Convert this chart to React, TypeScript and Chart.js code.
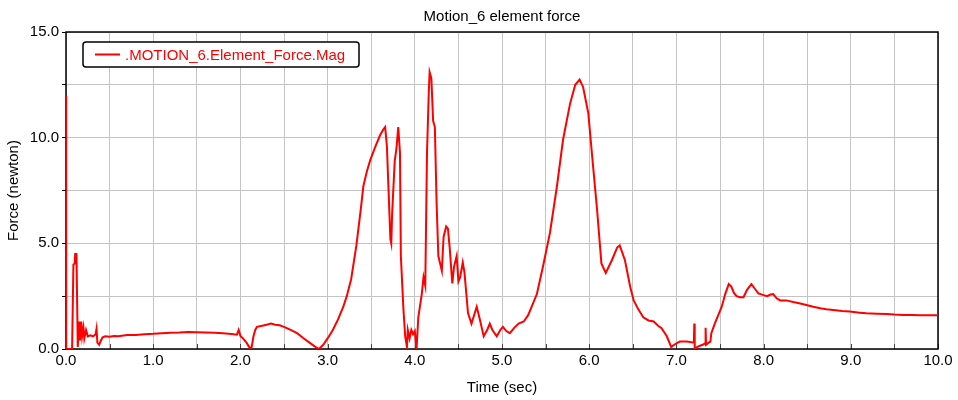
import React, { useEffect, useRef } from "react";
import { Chart, registerables } from "chart.js";

Chart.register(...registerables);

const CHART_TITLE = "Motion_6 element force";
const X_TITLE = "Time (sec)";
const Y_TITLE = "Force (newton)";
const SERIES_NAME = ".MOTION_6.Element_Force.Mag";

const timeSec = [
  0.0, 0.002, 0.07, 0.085, 0.1, 0.105, 0.12, 0.135, 0.15, 0.16, 0.175, 0.185, 0.2, 0.21, 0.23,
  0.25, 0.28, 0.31, 0.34, 0.35, 0.36, 0.38, 0.4, 0.42, 0.45, 0.5, 0.55, 0.6, 0.7, 0.8,
  0.9, 1.0, 1.1, 1.2, 1.3, 1.4, 1.5, 1.6, 1.7, 1.8, 1.9, 1.96, 1.98, 2.0, 2.03,
  2.07, 2.11, 2.13, 2.15, 2.17, 2.19, 2.25, 2.3, 2.35, 2.4, 2.45, 2.5, 2.57, 2.65, 2.72,
  2.8, 2.86, 2.9, 2.95, 3.0, 3.06, 3.12, 3.18, 3.22, 3.27, 3.33, 3.38, 3.41, 3.45, 3.49,
  3.55, 3.6, 3.64, 3.66, 3.68, 3.7, 3.72, 3.73, 3.74, 3.77, 3.79, 3.81, 3.83, 3.84, 3.87,
  3.89, 3.91, 3.92, 3.94, 3.96, 3.98, 4.0, 4.02, 4.04, 4.08, 4.1, 4.12, 4.14, 4.16, 4.17,
  4.19, 4.21, 4.23, 4.25, 4.27, 4.31, 4.33, 4.36, 4.38, 4.4, 4.43, 4.45, 4.48, 4.5, 4.52,
  4.55, 4.57, 4.61, 4.65, 4.68, 4.71, 4.74, 4.79, 4.83, 4.86, 4.89, 4.94, 4.98, 5.01, 5.05,
  5.09, 5.14, 5.19, 5.25, 5.3, 5.35, 5.4, 5.47, 5.55, 5.63, 5.7, 5.78, 5.84, 5.89, 5.93,
  5.99, 6.03, 6.09, 6.14, 6.19, 6.26, 6.32, 6.35, 6.41, 6.47, 6.51, 6.56, 6.62, 6.68, 6.74,
  6.79, 6.83, 6.89, 6.94, 7.0, 7.04, 7.12, 7.2, 7.205, 7.21, 7.24, 7.3, 7.33, 7.335, 7.34,
  7.37, 7.39, 7.4, 7.44, 7.48, 7.52, 7.56, 7.6, 7.63, 7.66, 7.69, 7.73, 7.77, 7.81, 7.86,
  7.9, 7.94, 8.0, 8.04, 8.08, 8.11, 8.15, 8.19, 8.26, 8.34, 8.42, 8.49, 8.57, 8.65, 8.72,
  8.8, 8.9, 8.99, 9.1, 9.18, 9.3, 9.41, 9.5, 9.6, 9.7, 9.8, 9.9, 10.0,
];

const forceN = [
  12.0, 0.0, 0.0, 4.0, 4.05, 4.5, 4.5, 0.1, 1.3, 0.4, 1.3, 0.6, 1.0, 0.5, 0.9,
  0.6, 0.65, 0.6, 0.7, 0.95, 0.3, 0.2, 0.4, 0.55, 0.6, 0.58, 0.62, 0.6, 0.66, 0.66,
  0.7, 0.72, 0.75, 0.77, 0.78, 0.8, 0.79, 0.78, 0.77, 0.74, 0.71, 0.68, 0.9, 0.62, 0.5,
  0.3, 0.03, 0.1, 0.6, 0.9, 1.05, 1.1, 1.15, 1.2, 1.15, 1.12, 1.05, 0.92, 0.75, 0.52,
  0.28, 0.1, 0.0, 0.2, 0.5, 0.9, 1.4, 2.0, 2.5, 3.3, 4.9, 6.6, 7.7, 8.4, 8.95,
  9.6, 10.1, 10.4, 10.5, 9.6, 7.4, 5.2, 5.0, 6.4, 8.9, 9.5, 10.5, 9.3, 4.4, 1.85,
  0.6, 0.1, 0.9, 0.5, 0.9, 0.7, 0.85, 0.0, 1.5, 2.6, 3.4, 3.0, 9.3, 12.1, 13.1,
  12.8, 10.8, 10.5, 6.9, 4.4, 3.7, 5.3, 5.8, 5.7, 4.8, 3.1, 3.9, 4.4, 3.2, 3.4,
  4.1, 3.6, 1.7, 1.2, 1.6, 2.0, 1.5, 0.6, 0.9, 1.2, 0.9, 0.6, 0.9, 1.05, 0.85,
  0.75, 1.0, 1.2, 1.3, 1.6, 2.1, 2.6, 3.9, 5.5, 7.7, 9.9, 11.6, 12.5, 12.75, 12.4,
  11.15, 9.3, 6.6, 4.05, 3.6, 4.2, 4.8, 4.9, 4.2, 2.95, 2.3, 1.9, 1.5, 1.35, 1.3,
  1.1, 0.98, 0.6, 0.1, 0.27, 0.35, 0.35, 0.3, 1.2, 0.0, 0.1, 0.2, 0.27, 1.0, 0.2,
  0.3, 0.35, 0.74, 1.2, 1.6, 2.0, 2.6, 3.07, 2.95, 2.65, 2.5, 2.45, 2.45, 2.8, 3.07,
  2.85, 2.63, 2.55, 2.5, 2.58, 2.6, 2.4, 2.3, 2.3, 2.22, 2.15, 2.08, 2.0, 1.93, 1.88,
  1.85, 1.8, 1.77, 1.72, 1.69, 1.67, 1.66, 1.63, 1.61, 1.61, 1.6, 1.6, 1.6,
];

const xTickValues = [0, 0.5, 1, 1.5, 2, 2.5, 3, 3.5, 4, 4.5, 5, 5.5, 6, 6.5, 7, 7.5, 8, 8.5, 9, 9.5, 10];
const xTickLabels = ["0.0", "", "1.0", "", "2.0", "", "3.0", "", "4.0", "", "5.0", "", "6.0", "", "7.0", "", "8.0", "", "9.0", "", "10.0"];
const yTickValues = [0, 2.5, 5, 7.5, 10, 12.5, 15];
const yTickLabels = ["0.0", "", "5.0", "", "10.0", "", "15.0"];

const FONT = '"Liberation Sans", Arial, sans-serif';
const RED = "#ff0000";
const GRID = "#c4c4c4";

const decorPlugin = {
  id: "decor",
  beforeDatasetsDraw(chart: any) {
    const { ctx, chartArea: a, scales } = chart;
    ctx.save();
    // inward x tick marks
    ctx.strokeStyle = "#444";
    ctx.lineWidth = 1;
    for (const v of xTickValues) {
      const x = Math.round(scales.x.getPixelForValue(v)) + 0.5;
      ctx.beginPath();
      ctx.moveTo(x, a.bottom);
      ctx.lineTo(x, a.bottom - 5);
      ctx.stroke();
    }
    // frame
    ctx.strokeStyle = "#000";
    ctx.lineWidth = 1.5;
    ctx.strokeRect(a.left, a.top, a.right - a.left, a.bottom - a.top);
    ctx.restore();
  },
  afterDraw(chart: any) {
    const { ctx, chartArea: a } = chart;
    ctx.save();
    // title
    ctx.fillStyle = "#000";
    ctx.font = `15px ${FONT}`;
    ctx.textAlign = "center";
    ctx.textBaseline = "middle";
    ctx.fillText(CHART_TITLE, (a.left + a.right) / 2, 17);
    // legend box
    const bx = a.left + 17;
    const by = a.top + 10;
    const bw = 276;
    const bh = 25;
    ctx.beginPath();
    if ((ctx as any).roundRect) {
      (ctx as any).roundRect(bx, by, bw, bh, 3);
    } else {
      ctx.rect(bx, by, bw, bh);
    }
    ctx.fillStyle = "#fff";
    ctx.fill();
    ctx.strokeStyle = "#000";
    ctx.lineWidth = 1.5;
    ctx.stroke();
    const cy = by + bh / 2;
    ctx.strokeStyle = RED;
    ctx.lineWidth = 2;
    ctx.beginPath();
    ctx.moveTo(bx + 12, cy);
    ctx.lineTo(bx + 37, cy);
    ctx.stroke();
    ctx.fillStyle = RED;
    ctx.font = `15px ${FONT}`;
    ctx.textAlign = "left";
    ctx.textBaseline = "middle";
    ctx.fillText(SERIES_NAME, bx + 42, cy + 1);
    ctx.restore();
  },
};

export default function App() {
  const canvasRef = useRef<HTMLCanvasElement | null>(null);

  useEffect(() => {
    const canvas = canvasRef.current;
    if (!canvas) return;
    const points = timeSec.map((t, i) => ({ x: t, y: forceN[i] }));
    const chart = new Chart(canvas, {
      type: "line",
      data: {
        datasets: [
          {
            label: SERIES_NAME,
            data: points,
            borderColor: RED,
            backgroundColor: RED,
            borderWidth: 2,
            pointRadius: 0,
            tension: 0,
            fill: false,
          },
        ],
      },
      options: {
        animation: false,
        responsive: true,
        maintainAspectRatio: false,
        parsing: false,
        layout: { padding: { top: 32, right: 20, left: 0, bottom: 0 } },
        plugins: {
          legend: { display: false },
          title: { display: false },
          tooltip: { enabled: false },
        },
        scales: {
          x: {
            type: "linear",
            min: 0,
            max: 10,
            afterBuildTicks: (scale: any) => {
              scale.ticks = xTickValues.map((v) => ({ value: v }));
            },
            afterFit: (scale: any) => {
              scale.height = 51;
            },
            ticks: {
              autoSkip: false,
              maxRotation: 0,
              padding: 3,
              color: "#000",
              font: { family: FONT, size: 15 },
              callback: (_v: any, i: number) => xTickLabels[i],
            },
            grid: { color: GRID, lineWidth: 1, drawTicks: false },
            border: { display: false },
            title: {
              display: true,
              text: X_TITLE,
              color: "#000",
              font: { family: FONT, size: 15 },
              padding: { top: 0, bottom: 3 },
            },
          },
          y: {
            type: "linear",
            min: 0,
            max: 15,
            afterBuildTicks: (scale: any) => {
              scale.ticks = yTickValues.map((v) => ({ value: v }));
            },
            afterFit: (scale: any) => {
              scale.width = 66;
            },
            ticks: {
              autoSkip: false,
              padding: 3,
              color: "#000",
              font: { family: FONT, size: 15 },
              callback: (_v: any, i: number) => yTickLabels[i],
            },
            grid: { color: GRID, lineWidth: 1, drawTicks: true, tickLength: 4, tickColor: "#000" },
            border: { display: false },
            title: {
              display: true,
              text: Y_TITLE,
              color: "#000",
              font: { family: FONT, size: 15 },
              padding: { top: 5, bottom: 0 },
            },
          },
        },
      },
      plugins: [decorPlugin],
    });
    return () => chart.destroy();
  }, []);

  return (
    <div style={{ position: "fixed", left: 0, top: 0, width: 958, height: 400, background: "#fff" }}>
      <canvas ref={canvasRef} />
    </div>
  );
}
